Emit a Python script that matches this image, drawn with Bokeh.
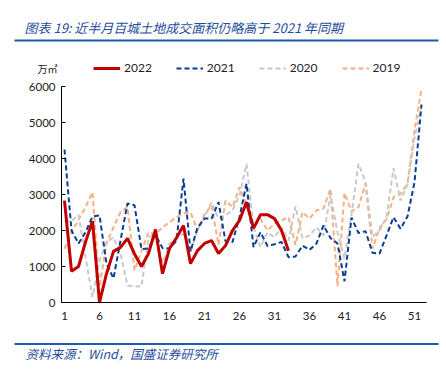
from bokeh.plotting import figure
from bokeh.models import (ColumnDataSource, Range1d, FixedTicker, Label, Legend,
                          LegendItem, BoxAnnotation)
from bokeh.embed import file_html
from bokeh.resources import INLINE

weeks_2022 = list(range(1, 34))
weeks_all = list(range(1, 53))

y2022 = [2830, 870, 1000, 1680, 2260, 0, 800, 1420, 1530, 1780, 1350, 1000, 1360,
         2030, 800, 1500, 1800, 2140, 1080, 1440, 1640, 1720, 1360, 1580, 2000,
         2280, 2790, 2060, 2440, 2440, 2330, 2000, 1440]
y2021 = [4250, 2000, 1640, 1950, 2390, 2420, 1080, 670, 1720, 2750, 2700, 1480, 1500,
         1880, 1510, 1500, 1720, 3440, 1420, 2080, 2330, 2330, 2790, 1700, 1680, 2370,
         3300, 1540, 1950, 1570, 1620, 1680, 1260, 1280, 1580, 1460, 1640, 2140, 1790,
         1640, 590, 2360, 1930, 1980, 1380, 1360, 1860, 2370, 2050, 2390, 3340, 5500]
y2020 = [2260, 2260, 2440, 1260, 150, 1170, 1680, 1810, 1360, 470, 440, 450, 1810,
         1910, 1100, 1640, 1780, 1910, 1400, 2000, 2370, 2790, 2330, 2420, 2560, 2970,
         3850, 2090, 1540, 1950, 1810, 2090, 1720, 2670, 1780, 1860, 2090, 1860, 2990,
         1950, 1220, 2440, 3850, 3360, 1820, 2000, 2370, 3730, 2830, 3280, 4570, 5450]
y2019 = [1490, 1950, 2300, 2650, 3060, 430, 1640, 2090, 2510, 2650, 890, 1440, 1950,
         1900, 2090, 2230, 2370, 2470, 2510, 2000, 2450, 2700, 1600, 2830, 2650, 3200,
         2700, 2090, 2330, 2000, 2190, 2280, 2370, 1600, 2510, 2330, 2560, 2610, 3160,
         450, 3040, 2530, 2650, 3300, 1500, 2070, 2300, 2920, 3020, 3300, 4780, 5940]

x_ticks = [1, 6, 11, 16, 21, 26, 31, 36, 41, 46, 51]
y_ticks = [0, 1000, 2000, 3000, 4000, 5000, 6000]

title_text = "图表 19:  近半月百城土地成交面积仍略高于 2021 年同期"
source_text = "资料来源：Wind，国盛证券研究所"
unit_text = "万㎡"

BLUE_TXT = "#1F4E9C"
TICK_FONT = "Lato"
CJK = "Noto Sans CJK SC"

W, H = 440, 362
# plot area (data region) inside the canvas
X_LO, X_HI = 0.571, 52.71
Y_LO, Y_HI = 0, 6000
px_per_wk = 7.0
px_per_val = 0.036
area_left, area_bottom = 61, 302

x_start = X_LO - area_left / px_per_wk
x_end = x_start + W / px_per_wk
y_end = area_bottom / px_per_val
y_start = y_end - H / px_per_val

p = figure(width=W, height=H, output_backend="svg", toolbar_location=None,
           x_range=Range1d(x_start, x_end), y_range=Range1d(y_start, y_end),
           min_border=0, title_location=None)
p.outline_line_color = None
p.grid.visible = False
p.background_fill_color = "white"
p.border_fill_color = "white"

src19 = ColumnDataSource(dict(x=weeks_all, y=y2019))
src20 = ColumnDataSource(dict(x=weeks_all, y=y2020))
src21 = ColumnDataSource(dict(x=weeks_all, y=y2021))
src22 = ColumnDataSource(dict(x=weeks_2022, y=y2022))

r19 = p.line("x", "y", source=src19, line_color="#F4B183", line_width=2, line_dash="5 3")
r20 = p.line("x", "y", source=src20, line_color="#C9C9C9", line_width=2, line_dash="5 3")
r21 = p.line("x", "y", source=src21, line_color="#0B3D91", line_width=2, line_dash="5 3")
r22 = p.line("x", "y", source=src22, line_color="#C00000", line_width=3)

# axes
xa = p.xaxis[0]
xa.fixed_location = Y_LO
xa.bounds = (X_LO, X_HI)
xa.ticker = FixedTicker(ticks=x_ticks)
xa.major_tick_in = 0
xa.major_tick_out = 0
xa.minor_tick_line_color = None
xa.axis_line_color = "black"
xa.major_label_text_font = TICK_FONT
xa.major_label_text_font_size = "11.5px"
xa.major_label_text_color = "#222222"
xa.major_label_standoff = 9

ya = p.yaxis[0]
ya.fixed_location = X_LO
ya.bounds = (Y_LO, Y_HI)
ya.ticker = FixedTicker(ticks=y_ticks)
ya.major_tick_in = 4
ya.major_tick_out = 0
ya.minor_tick_line_color = None
ya.axis_line_color = "black"
ya.major_label_text_font = TICK_FONT
ya.major_label_text_font_size = "11.5px"
ya.major_label_text_color = "#222222"
ya.major_label_standoff = 6

legend = Legend(items=[LegendItem(label="2022", renderers=[r22]),
                       LegendItem(label="2021", renderers=[r21]),
                       LegendItem(label="2020", renderers=[r20]),
                       LegendItem(label="2019", renderers=[r19])],
                orientation="horizontal", location=(93, H - 68 - 7),
                glyph_width=27, glyph_height=14, label_standoff=4, spacing=24,
                padding=0, margin=0, border_line_color=None,
                background_fill_alpha=0, label_text_font=TICK_FONT,
                label_text_font_size="12px", label_text_color="#222222",
                label_height=14)
p.add_layout(legend, "center")

p.add_layout(Label(x=24, y=H - 27, x_units="screen", y_units="screen", text=title_text,
                   text_font=CJK, text_font_style="italic", text_font_size="13px",
                   text_color=BLUE_TXT, text_baseline="middle"))
p.add_layout(Label(x=25, y=H - 353, x_units="screen", y_units="screen", text=source_text,
                   text_font=CJK, text_font_style="italic", text_font_size="12.5px",
                   text_color=BLUE_TXT, text_baseline="middle"))
p.add_layout(Label(x=37, y=H - 68, x_units="screen", y_units="screen", text=unit_text,
                   text_font=CJK, text_font_size="10px", text_color="#222222",
                   text_baseline="middle"))

p.add_layout(BoxAnnotation(left=14, right=438, bottom=H - 41, top=H - 39,
                           left_units="screen", right_units="screen",
                           bottom_units="screen", top_units="screen",
                           fill_color="#1F5BAA", fill_alpha=1, line_color=None))
p.add_layout(BoxAnnotation(left=14, right=438, bottom=H - 344.5, top=H - 342.5,
                           left_units="screen", right_units="screen",
                           bottom_units="screen", top_units="screen",
                           fill_color="#1F5BAA", fill_alpha=1, line_color=None))

open("out.html", "w").write(file_html(p, INLINE))
